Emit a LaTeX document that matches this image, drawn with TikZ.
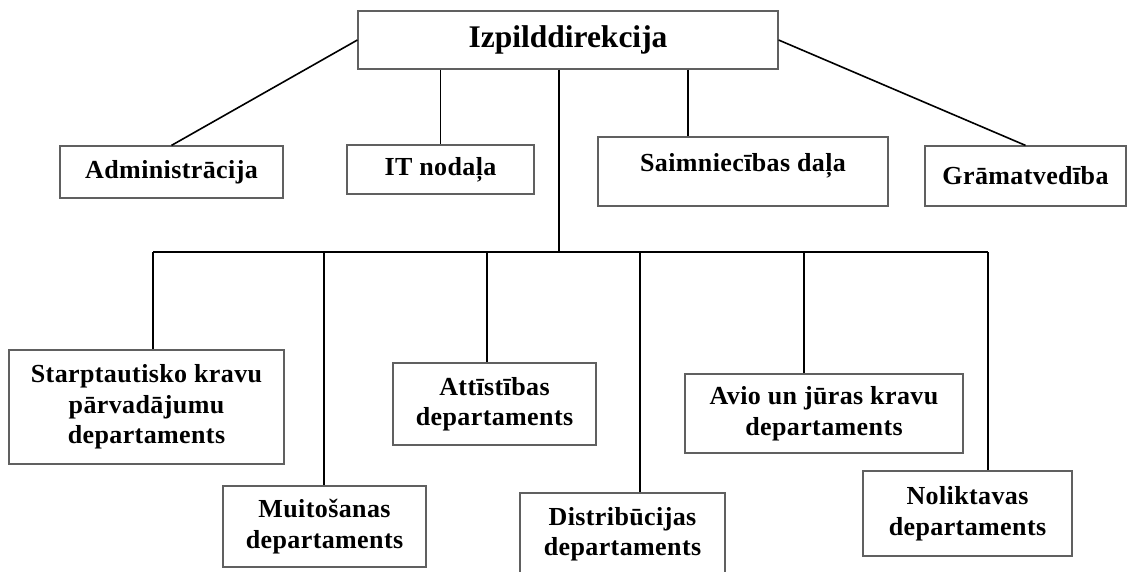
\documentclass[tikz,border=0pt]{standalone}
\usepackage{fontspec}
\setmainfont{Liberation Serif}[LetterSpace=1.5]
\usepackage{tikz}
\usetikzlibrary{positioning}
\tikzset{
    x=1pt,
    y=-1pt,
    unit/.style={rectangle, draw=gray!75!black, line width=1.2pt, align=center,
        inner sep=0pt, font=\bfseries\fontsize{26}{30.5}\selectfont},
    head/.style={unit, font=\bfseries\fontsize{31.5}{36}\selectfont\addfontfeature{LetterSpace=0}},
    link/.style={line width=1.6pt},
}

\begin{document}
\begin{tikzpicture}
       \useasboundingbox (0,0) rectangle (1128,571);
       % top level
       \node[head, minimum width=420, minimum height=58] (dir) at (568,40) {Izpilddirekcija};
       \node[unit, minimum width=223, minimum height=52] (adm) at (171.5,172) {Administrācija};
       \node[unit, minimum width=187, minimum height=49] (it) at (440.5,169.5) {IT nodaļa};
       \node[unit, minimum width=290, minimum height=69, text depth=19pt] (saim) at (743,171.5) {Saimniecības daļa};
       \node[unit, minimum width=201, minimum height=60] (gram) at (1025.5,176) {Grāmatvedība};
       % departments
       \node[unit, minimum width=275, minimum height=114] (d_1) at (146.5,407) {Starptautisko kravu\\pārvadājumu\\departaments};
       \node[unit, minimum width=203, minimum height=81] (d_2) at (324.5,526.5) {Muitošanas\\departaments};
       \node[unit, minimum width=203, minimum height=82] (d_3) at (494.5,404) {Attīstības\\departaments};
       \node[unit, minimum width=205, minimum height=82] (d_4) at (622.5,534) {Distribūcijas\\departaments};
       \node[unit, minimum width=278, minimum height=79] (d_5) at (824,413.5) {Avio un jūras kravu\\departaments};
       \node[unit, minimum width=209, minimum height=85] (d_6) at (967.5,513.5) {Noliktavas\\departaments};
       % bus
       \coordinate (hub) at (559,252);
       \coordinate (b_1) at (153,252);
       \coordinate (b_2) at (324,252);
       \coordinate (b_3) at (487,252);
       \coordinate (b_4) at (640,252);
       \coordinate (b_5) at (804,252);
       \coordinate (b_6) at (988,252);
        \path[link]
        (dir.west) edge (adm.north)
        (dir.east) edge (gram.north)
        (it.north |- dir.south) edge (it.north)
        ([xshift=-55pt]saim.north |- dir.south) edge ([xshift=-55pt]saim.north)
        (hub |- dir.south) edge (hub)
        (b_1) edge (b_6)
        (b_1) edge (b_1 |- d_1.north)
        (b_2) edge (b_2 |- d_2.north)
        (b_3) edge (b_3 |- d_3.north)
        (b_4) edge (b_4 |- d_4.north)
        (b_5) edge (b_5 |- d_5.north)
        (b_6) edge (b_6 |- d_6.north);
      \end{tikzpicture}
\end{document}
